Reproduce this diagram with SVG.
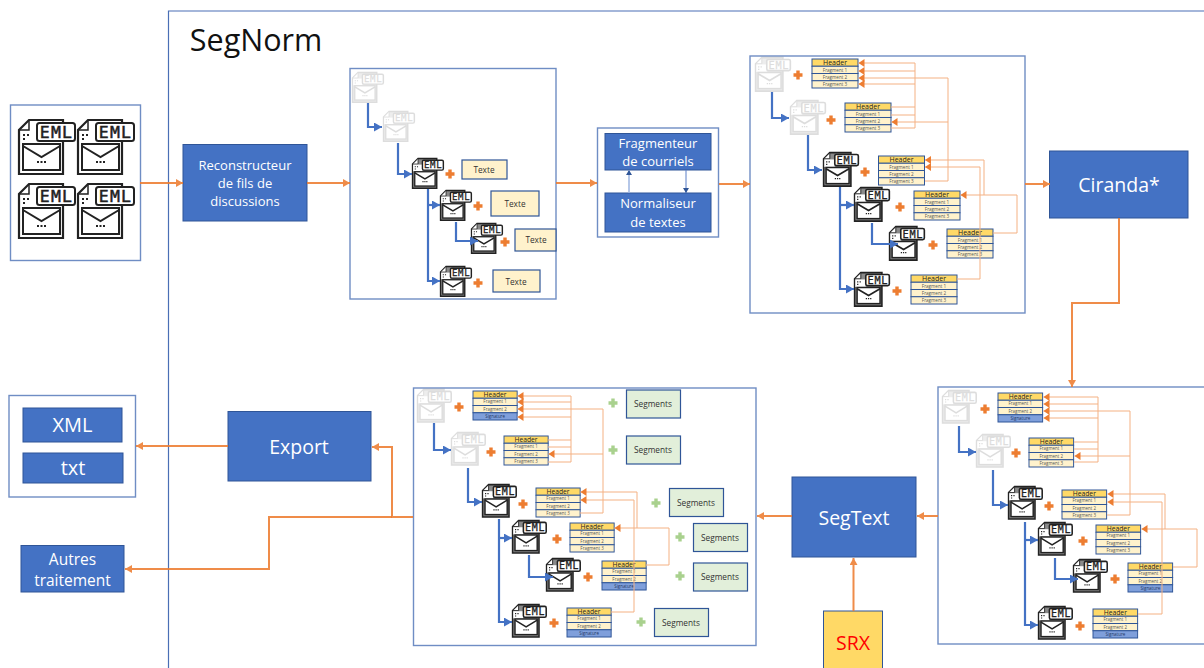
<svg xmlns="http://www.w3.org/2000/svg" width="1204" height="668" viewBox="0 0 1204 668">
<style>
text{font-family:"Open Sans","Noto Sans","Liberation Sans",sans-serif;text-anchor:middle}
.box{fill:#4472c4;stroke:#2f5597;stroke-width:1}
.w{fill:#fff}
.frame{fill:#fff;stroke:#6f8dc4;stroke-width:1.4}
.eml{font-family:"DejaVu Sans Mono","Liberation Mono",monospace;font-size:16.500px;fill:#222;stroke:#222;stroke-width:.5;letter-spacing:1.200px}
.faded{opacity:.15}
.h{font-size:7px;fill:#222}
.f{font-size:4.600px;fill:#555}
.s{font-size:4.600px;fill:#1f3864}
.lbl{font-size:8.300px;fill:#333}
.tb{fill:#fff2cc;stroke:#2f5597;stroke-width:1.2}
.sb{fill:#e2efda;stroke:#2f5597;stroke-width:1.2}
.main{fill:none;stroke:#ed7d31;stroke-width:2;opacity:.88}
.blue{fill:none;stroke:#4472c4;stroke-width:2.200}
.pale{fill:none;stroke:#f4b183;stroke-width:1}
</style>
<defs>
<marker id="ao" markerUnits="userSpaceOnUse" markerWidth="8" markerHeight="8" refX="7" refY="4" orient="auto"><path d="M0 0L7 4L0 8z" fill="#ed7d31"/></marker>
<marker id="ab" markerUnits="userSpaceOnUse" markerWidth="9" markerHeight="9" refX="8" refY="4.500" orient="auto"><path d="M0 0L8 4.500L0 9z" fill="#4472c4"/></marker>
<marker id="ap" markerUnits="userSpaceOnUse" markerWidth="7" markerHeight="8" refX="6" refY="4" orient="auto"><path d="M0 0L6 4L0 8z" fill="#ed7d31"/></marker>
<marker id="ai" markerUnits="userSpaceOnUse" markerWidth="7" markerHeight="6" refX="5" refY="3" orient="auto"><path d="M0 0L5 3L0 6z" fill="#2f5597"/></marker>
<path id="po" d="M-1.700-4.500H1.700V-1.700H4.500V1.700H1.700V4.500H-1.700V1.700H-4.500V-1.700H-1.700z" fill="#ed7d31"/>
<path id="pg" d="M-1.700-4.500H1.700V-1.700H4.500V1.700H1.700V4.500H-1.700V1.700H-4.500V-1.700H-1.700z" fill="#a9d18e"/>
<g id="ic">
<path d="M11 1H45V55H1V11z" fill="#fff" stroke="#222" stroke-width="2.200"/>
<path d="M11 2V11H2" fill="none" stroke="#222" stroke-width="1.500"/>
<path d="M5 16h2M5 20h2M9 16h2" stroke="#222" stroke-width="1.800"/>
<rect x="19" y="4" width="38" height="18" rx="2.500" fill="#fff" stroke="#222" stroke-width="2"/>
<rect x="5" y="25" width="37" height="26" fill="#fff" stroke="#222" stroke-width="2"/>
<path d="M5 27L23.500 38L42 27" fill="none" stroke="#222" stroke-width="2"/>
<path d="M19 43h2M22.500 43h2M26 43h2" stroke="#222" stroke-width="1.800"/>
</g>
<g id="ics">
<path d="M11 1H45V55H1V11z" fill="#8a8a8a" stroke="#222" stroke-width="2.600"/>
<path d="M11 2V11H2" fill="#fff" stroke="#222" stroke-width="1.500"/>
<path d="M2 12H19V24H2z" fill="#fff"/>
<path d="M5 16h2M5 20h2M9 16h2" stroke="#222" stroke-width="2"/>
<rect x="19" y="4" width="38" height="18" rx="2.500" fill="#fff" stroke="#222" stroke-width="2.600"/>
<rect x="5" y="25" width="37" height="26" fill="#fff" stroke="#222" stroke-width="2.400"/>
<path d="M5 27L23.500 38L42 27" fill="none" stroke="#222" stroke-width="2.600"/>
<path d="M19 43h2M22.500 43h2M26 43h2" stroke="#222" stroke-width="2"/>
</g>
<g id="t3">
<rect width="46" height="7.250" fill="#ffd966" stroke="#2f5597"/>
<rect y="7.250" width="46" height="7.250" fill="#fff2cc" stroke="#2f5597"/>
<rect y="14.500" width="46" height="7.250" fill="#fff2cc" stroke="#2f5597"/>
<rect y="21.750" width="46" height="7.250" fill="#fff2cc" stroke="#2f5597"/>
</g>
<g id="t2">
<rect width="46" height="7.250" fill="#ffd966" stroke="#2f5597"/>
<rect y="7.250" width="46" height="7.250" fill="#fff2cc" stroke="#2f5597"/>
<rect y="14.500" width="46" height="7.250" fill="#fff2cc" stroke="#2f5597"/>
<rect y="21.750" width="46" height="7.250" fill="#7f9fdb" stroke="#2f5597"/>
</g>
</defs>
<rect width="1204" height="668" fill="#fff"/>

<path id="segnorm-frame" d="M1204 11H168.500V668" fill="none" stroke="#4a6fb5" stroke-width="1.200"/>
<text x="256" y="51" font-size="30.500" fill="#111">SegNorm</text>

<g id="input">
<rect class="frame" x="10.500" y="105" width="130" height="155.500"/>
<g transform="translate(18 119)"><use href="#ic"/><text class="eml" x="38.500" y="19">EML</text></g>
<g transform="translate(77 119)"><use href="#ic"/><text class="eml" x="38.500" y="19">EML</text></g>
<g transform="translate(18 183)"><use href="#ic"/><text class="eml" x="38.500" y="19">EML</text></g>
<g transform="translate(77 183)"><use href="#ic"/><text class="eml" x="38.500" y="19">EML</text></g>
</g>

<g id="reconstructeur"><rect class="box" x="183" y="144.500" width="124" height="76.500"/>
<text class="w" x="245" y="170" font-size="13">Reconstructeur</text><text class="w" x="245" y="188" font-size="13">de fils de</text><text class="w" x="245" y="206" font-size="13">discussions</text></g>

<g id="panel-a">
<rect class="frame" x="350" y="68.500" width="206" height="230.500"/>
<g class="faded" transform="translate(352 72) scale(.55)"><use href="#ics"/><text class="eml" x="38.500" y="19">EML</text></g>
<g class="faded" transform="translate(383 111) scale(.55)"><use href="#ics"/><text class="eml" x="38.500" y="19">EML</text></g>
<g transform="translate(412 158) scale(.55)"><use href="#ics"/><text class="eml" x="38.500" y="19">EML</text></g>
<g transform="translate(440 190) scale(.55)"><use href="#ics"/><text class="eml" x="38.500" y="19">EML</text></g>
<g transform="translate(471 223) scale(.55)"><use href="#ics"/><text class="eml" x="38.500" y="19">EML</text></g>
<g transform="translate(440 266) scale(.55)"><use href="#ics"/><text class="eml" x="38.500" y="19">EML</text></g>
<use href="#po" x="450" y="174"/><use href="#po" x="478" y="206"/><use href="#po" x="505" y="242"/><use href="#po" x="478" y="283"/>
<g id="texte-1"><rect class="tb" x="462" y="160" width="45" height="19"/><text class="lbl" x="484" y="173">Texte</text></g>
<g id="texte-2"><rect class="tb" x="491" y="191" width="48" height="25"/><text class="lbl" x="515" y="207">Texte</text></g>
<g id="texte-3"><rect class="tb" x="515" y="229" width="41" height="22"/><text class="lbl" x="536" y="243">Texte</text></g>
<g id="texte-4"><rect class="tb" x="493" y="270" width="47" height="22"/><text class="lbl" x="516" y="285">Texte</text></g>
</g>

<g id="fragmenteur-group">
<rect class="frame" x="597.500" y="128" width="121" height="109"/>
<g id="fragmenteur"><rect class="box" x="605" y="133.500" width="106" height="36.500"/>
<text class="w" x="658" y="148" font-size="13">Fragmenteur</text><text class="w" x="658" y="166" font-size="13">de courriels</text></g>
<g id="normaliseur"><rect class="box" x="605" y="193" width="106" height="39"/>
<text class="w" x="658" y="208" font-size="13">Normaliseur</text><text class="w" x="658" y="227" font-size="13">de textes</text></g>
</g>

<g id="panel-b">
<rect class="frame" x="750" y="56" width="275" height="257"/>
<g class="faded" transform="translate(755 57) scale(.62)"><use href="#ics"/><text class="eml" x="38.500" y="19">EML</text></g>
<g class="faded" transform="translate(790 100) scale(.62)"><use href="#ics"/><text class="eml" x="38.500" y="19">EML</text></g>
<g transform="translate(823 152) scale(.62)"><use href="#ics"/><text class="eml" x="38.500" y="19">EML</text></g>
<g transform="translate(854 187) scale(.62)"><use href="#ics"/><text class="eml" x="38.500" y="19">EML</text></g>
<g transform="translate(889 226) scale(.62)"><use href="#ics"/><text class="eml" x="38.500" y="19">EML</text></g>
<g transform="translate(854 272) scale(.62)"><use href="#ics"/><text class="eml" x="38.500" y="19">EML</text></g>
<use href="#po" x="798" y="75"/><use href="#po" x="831" y="120"/><use href="#po" x="865" y="172"/><use href="#po" x="900" y="207"/><use href="#po" x="933" y="245"/><use href="#po" x="897" y="291"/>
<g transform="translate(812 59)"><use href="#t3"/><text class="h" x="23" y="6">Header</text><text class="f" x="23" y="12.500">Fragment 1</text><text class="f" x="23" y="19.800">Fragment 2</text><text class="f" x="23" y="27">Fragment 3</text></g>
<g transform="translate(845 103)"><use href="#t3"/><text class="h" x="23" y="6">Header</text><text class="f" x="23" y="12.500">Fragment 1</text><text class="f" x="23" y="19.800">Fragment 2</text><text class="f" x="23" y="27">Fragment 3</text></g>
<g transform="translate(878.500 156)"><use href="#t3"/><text class="h" x="23" y="6">Header</text><text class="f" x="23" y="12.500">Fragment 1</text><text class="f" x="23" y="19.800">Fragment 2</text><text class="f" x="23" y="27">Fragment 3</text></g>
<g transform="translate(914 191)"><use href="#t3"/><text class="h" x="23" y="6">Header</text><text class="f" x="23" y="12.500">Fragment 1</text><text class="f" x="23" y="19.800">Fragment 2</text><text class="f" x="23" y="27">Fragment 3</text></g>
<g transform="translate(947 229)"><use href="#t3"/><text class="h" x="23" y="6">Header</text><text class="f" x="23" y="12.500">Fragment 1</text><text class="f" x="23" y="19.800">Fragment 2</text><text class="f" x="23" y="27">Fragment 3</text></g>
<g transform="translate(911 275)"><use href="#t3"/><text class="h" x="23" y="6">Header</text><text class="f" x="23" y="12.500">Fragment 1</text><text class="f" x="23" y="19.800">Fragment 2</text><text class="f" x="23" y="27">Fragment 3</text></g>
</g>

<g id="ciranda"><rect class="box" x="1049.500" y="151" width="138.500" height="67"/><text class="w" x="1119" y="192" font-size="19.500">Ciranda*</text></g>

<g id="panel-d">
<rect class="frame" x="938" y="387" width="270" height="257"/>
<g class="faded" transform="translate(942 390) scale(.6)"><use href="#ics"/><text class="eml" x="38.500" y="19">EML</text></g>
<g class="faded" transform="translate(976 434) scale(.6)"><use href="#ics"/><text class="eml" x="38.500" y="19">EML</text></g>
<g transform="translate(1008 486) scale(.6)"><use href="#ics"/><text class="eml" x="38.500" y="19">EML</text></g>
<g transform="translate(1038 522) scale(.6)"><use href="#ics"/><text class="eml" x="38.500" y="19">EML</text></g>
<g transform="translate(1073 559) scale(.6)"><use href="#ics"/><text class="eml" x="38.500" y="19">EML</text></g>
<g transform="translate(1038 606) scale(.6)"><use href="#ics"/><text class="eml" x="38.500" y="19">EML</text></g>
<use href="#po" x="985" y="409"/><use href="#po" x="1016" y="453"/><use href="#po" x="1049" y="506"/><use href="#po" x="1083" y="541"/><use href="#po" x="1115" y="579"/><use href="#po" x="1080" y="626"/>
<g transform="translate(998 393) scale(.97 1)"><use href="#t2"/><text class="h" x="23" y="6">Header</text><text class="f" x="23" y="12.500">Fragment 1</text><text class="f" x="23" y="19.800">Fragment 2</text><text class="s" x="23" y="27">Signature</text></g>
<g transform="translate(1029 438) scale(.97 1)"><use href="#t3"/><text class="h" x="23" y="6">Header</text><text class="f" x="23" y="12.500">Fragment 1</text><text class="f" x="23" y="19.800">Fragment 2</text><text class="f" x="23" y="27">Fragment 3</text></g>
<g transform="translate(1062 490) scale(.97 1)"><use href="#t3"/><text class="h" x="23" y="6">Header</text><text class="f" x="23" y="12.500">Fragment 1</text><text class="f" x="23" y="19.800">Fragment 2</text><text class="f" x="23" y="27">Fragment 3</text></g>
<g transform="translate(1096 525) scale(.97 1)"><use href="#t3"/><text class="h" x="23" y="6">Header</text><text class="f" x="23" y="12.500">Fragment 1</text><text class="f" x="23" y="19.800">Fragment 2</text><text class="f" x="23" y="27">Fragment 3</text></g>
<g transform="translate(1128 563) scale(.97 1)"><use href="#t2"/><text class="h" x="23" y="6">Header</text><text class="f" x="23" y="12.500">Fragment 1</text><text class="f" x="23" y="19.800">Fragment 2</text><text class="s" x="23" y="27">Signature</text></g>
<g transform="translate(1093 609) scale(.97 1)"><use href="#t2"/><text class="h" x="23" y="6">Header</text><text class="f" x="23" y="12.500">Fragment 1</text><text class="f" x="23" y="19.800">Fragment 2</text><text class="s" x="23" y="27">Signature</text></g>
</g>

<g id="segtext"><rect class="box" x="792" y="477" width="124" height="80"/><text class="w" x="854" y="525" font-size="19.500">SegText</text></g>
<g id="srx"><rect x="823.500" y="611" width="59" height="60" fill="#ffd966" stroke="#2f5597"/><text x="853" y="650" font-size="19.500" fill="#ff0000">SRX</text></g>

<g id="panel-c">
<rect class="frame" x="413.500" y="388" width="342.500" height="257.500"/>
<g class="faded" transform="translate(417 389) scale(.6)"><use href="#ics"/><text class="eml" x="38.500" y="19">EML</text></g>
<g class="faded" transform="translate(451 432) scale(.6)"><use href="#ics"/><text class="eml" x="38.500" y="19">EML</text></g>
<g transform="translate(482 484) scale(.6)"><use href="#ics"/><text class="eml" x="38.500" y="19">EML</text></g>
<g transform="translate(512 520) scale(.6)"><use href="#ics"/><text class="eml" x="38.500" y="19">EML</text></g>
<g transform="translate(546 558) scale(.6)"><use href="#ics"/><text class="eml" x="38.500" y="19">EML</text></g>
<g transform="translate(512 604) scale(.6)"><use href="#ics"/><text class="eml" x="38.500" y="19">EML</text></g>
<use href="#po" x="459" y="407"/><use href="#po" x="491" y="452"/><use href="#po" x="523" y="504"/><use href="#po" x="557" y="539"/><use href="#po" x="588" y="577"/><use href="#po" x="554" y="623"/>
<use href="#pg" x="613" y="403"/><use href="#pg" x="613" y="450"/><use href="#pg" x="656" y="503"/><use href="#pg" x="680" y="537"/><use href="#pg" x="680" y="576"/><use href="#pg" x="641" y="622"/>
<g transform="translate(473 391) scale(.96 1)"><use href="#t2"/><text class="h" x="23" y="6">Header</text><text class="f" x="23" y="12.500">Fragment 1</text><text class="f" x="23" y="19.800">Fragment 2</text><text class="s" x="23" y="27">Signature</text></g>
<g transform="translate(504 436) scale(.96 1)"><use href="#t3"/><text class="h" x="23" y="6">Header</text><text class="f" x="23" y="12.500">Fragment 1</text><text class="f" x="23" y="19.800">Fragment 2</text><text class="f" x="23" y="27">Fragment 3</text></g>
<g transform="translate(536 488) scale(.96 1)"><use href="#t3"/><text class="h" x="23" y="6">Header</text><text class="f" x="23" y="12.500">Fragment 1</text><text class="f" x="23" y="19.800">Fragment 2</text><text class="f" x="23" y="27">Fragment 3</text></g>
<g transform="translate(570 523) scale(.96 1)"><use href="#t3"/><text class="h" x="23" y="6">Header</text><text class="f" x="23" y="12.500">Fragment 1</text><text class="f" x="23" y="19.800">Fragment 2</text><text class="f" x="23" y="27">Fragment 3</text></g>
<g transform="translate(602 561) scale(.96 1)"><use href="#t2"/><text class="h" x="23" y="6">Header</text><text class="f" x="23" y="12.500">Fragment 1</text><text class="f" x="23" y="19.800">Fragment 2</text><text class="s" x="23" y="27">Signature</text></g>
<g transform="translate(567 608) scale(.96 1)"><use href="#t2"/><text class="h" x="23" y="6">Header</text><text class="f" x="23" y="12.500">Fragment 1</text><text class="f" x="23" y="19.800">Fragment 2</text><text class="s" x="23" y="27">Signature</text></g>
<g id="seg-1"><rect class="sb" x="626.500" y="390" width="54" height="28"/><text class="lbl" x="653" y="407">Segments</text></g>
<g id="seg-2"><rect class="sb" x="626.500" y="436" width="54" height="28"/><text class="lbl" x="653" y="453">Segments</text></g>
<g id="seg-3"><rect class="sb" x="669.500" y="488.500" width="54" height="28"/><text class="lbl" x="696" y="506">Segments</text></g>
<g id="seg-4"><rect class="sb" x="693.500" y="523.500" width="54" height="28"/><text class="lbl" x="720" y="541">Segments</text></g>
<g id="seg-5"><rect class="sb" x="693.500" y="563" width="54" height="28"/><text class="lbl" x="720" y="580">Segments</text></g>
<g id="seg-6"><rect class="sb" x="654.500" y="608.500" width="54" height="28"/><text class="lbl" x="681" y="626">Segments</text></g>
</g>

<g id="export"><rect class="box" x="228" y="411.500" width="143" height="69.500"/><text class="w" x="299" y="454" font-size="19.500">Export</text></g>
<g id="outputs">
<rect class="frame" x="9" y="395.500" width="126.500" height="101.500"/>
<g id="xml"><rect class="box" x="23" y="408" width="99" height="34"/><text class="w" x="72.500" y="432" font-size="20">XML</text></g>
<g id="txt"><rect class="box" x="23" y="453" width="100" height="30"/><text class="w" x="73" y="475" font-size="20">txt</text></g>
</g>
<g id="autres"><rect class="box" x="21" y="545.500" width="103" height="46.500"/><text class="w" x="72.500" y="565" font-size="15.500">Autres</text><text class="w" x="72.500" y="586" font-size="15.500">traitement</text></g>

<g id="connectors">
<g class="flow">
<path class="main" d="M140 183H183" marker-end="url(#ao)"/>
<path class="main" d="M307 183H350" marker-end="url(#ao)"/>
<path class="main" d="M556 183H597" marker-end="url(#ao)"/>
<path class="main" d="M719 184H750" marker-end="url(#ao)"/>
<path class="main" d="M1025 184H1050" marker-end="url(#ao)"/>
<path class="main" d="M1119 218V303H1072V387" marker-end="url(#ao)"/>
<path class="main" d="M938 516H917" marker-end="url(#ao)"/>
<path class="main" d="M792 516H757" marker-end="url(#ao)"/>
<path class="main" d="M853.500 611V558" marker-end="url(#ao)"/>
<path class="main" d="M413 517H392V447H372" marker-end="url(#ao)"/>
<path class="main" d="M392 517H269V569H125" marker-end="url(#ao)"/>
<path class="main" d="M228 446H136" marker-end="url(#ao)"/>
<path fill="none" stroke="#9db4e0" stroke-width="1.500" d="M629 193V170" marker-end="url(#ai)"/>
<path fill="none" stroke="#5b7fc7" stroke-width="1" d="M686 170V193" marker-end="url(#ai)"/>
</g>
<g id="blue-links">
<path class="blue" d="M368 103V127H382" marker-end="url(#ab)"/>
<path class="blue" d="M398 143V174H412" marker-end="url(#ab)"/>
<path class="blue" d="M428 189V281H440" marker-end="url(#ab)"/>
<path class="blue" d="M428 205H440" marker-end="url(#ab)"/>
<path class="blue" d="M456 222V241H478" marker-end="url(#ab)"/>
<path class="blue" d="M772 92V118H789" marker-end="url(#ab)"/>
<path class="blue" d="M808 135V170H822" marker-end="url(#ab)"/>
<path class="blue" d="M840 187V289H854" marker-end="url(#ab)"/>
<path class="blue" d="M840 205H854" marker-end="url(#ab)"/>
<path class="blue" d="M872 223V244H898" marker-end="url(#ab)"/>
<path class="blue" d="M434 423V450H451" marker-end="url(#ab)"/>
<path class="blue" d="M468 468V502H482" marker-end="url(#ab)"/>
<path class="blue" d="M499 519V622H512" marker-end="url(#ab)"/>
<path class="blue" d="M499 538H512" marker-end="url(#ab)"/>
<path class="blue" d="M529 555V577H553" marker-end="url(#ab)"/>
<path class="blue" d="M959 426V452H976" marker-end="url(#ab)"/>
<path class="blue" d="M993 470V505H1008" marker-end="url(#ab)"/>
<path class="blue" d="M1025 522V625H1038" marker-end="url(#ab)"/>
<path class="blue" d="M1025 540H1038" marker-end="url(#ab)"/>
<path class="blue" d="M1055 558V579H1078" marker-end="url(#ab)"/>
</g>
<g id="pale-links">
<path class="pale" d="M891 107H915M891 115H915M891 128H915M915 128V63"/>
<path class="pale" d="M915 63H858.500" marker-end="url(#ap)"/>
<path class="pale" d="M915 71H858.500" marker-end="url(#ap)"/>
<path class="pale" d="M948 78H858.500" marker-end="url(#ap)"/>
<path class="pale" d="M915 84H858.500" marker-end="url(#ap)"/>
<path class="pale" d="M925 181H948V78"/>
<path class="pale" d="M948 122H891.500" marker-end="url(#ap)"/>
<path class="pale" d="M984 195V160H925" marker-end="url(#ap)"/>
<path class="pale" d="M993 233H1017V195H960.500" marker-end="url(#ap)"/>
<path class="pale" d="M957 279H980V167H925" marker-end="url(#ap)"/>

<path class="pale" d="M548 440H571M548 447H571M548 462H571M571 462V396"/>
<path class="pale" d="M571 396H517.500" marker-end="url(#ap)"/>
<path class="pale" d="M571 402H517.500" marker-end="url(#ap)"/>
<path class="pale" d="M603 409H517.500" marker-end="url(#ap)"/>
<path class="pale" d="M571 417H517.500" marker-end="url(#ap)"/>
<path class="pale" d="M580 513H603V409"/>
<path class="pale" d="M603 454H548.500" marker-end="url(#ap)"/>
<path class="pale" d="M637 528V492H580.500" marker-end="url(#ap)"/>
<path class="pale" d="M646 565H669V528H614.500" marker-end="url(#ap)"/>
<path class="pale" d="M611 612H634V500H580.500" marker-end="url(#ap)"/>

<path class="pale" d="M1074 442H1098M1074 449H1098M1074 462H1098M1098 462V397"/>
<path class="pale" d="M1098 397H1043.500" marker-end="url(#ap)"/>
<path class="pale" d="M1098 404H1043.500" marker-end="url(#ap)"/>
<path class="pale" d="M1130 411H1043.500" marker-end="url(#ap)"/>
<path class="pale" d="M1098 418H1043.500" marker-end="url(#ap)"/>
<path class="pale" d="M1107 515H1130V411"/>
<path class="pale" d="M1130 456H1074.500" marker-end="url(#ap)"/>
<path class="pale" d="M1165 529V494H1107.500" marker-end="url(#ap)"/>
<path class="pale" d="M1173 567H1197V529H1141.500" marker-end="url(#ap)"/>
<path class="pale" d="M1138 614H1162V502H1107.500" marker-end="url(#ap)"/>
</g>
</g>
</svg>
